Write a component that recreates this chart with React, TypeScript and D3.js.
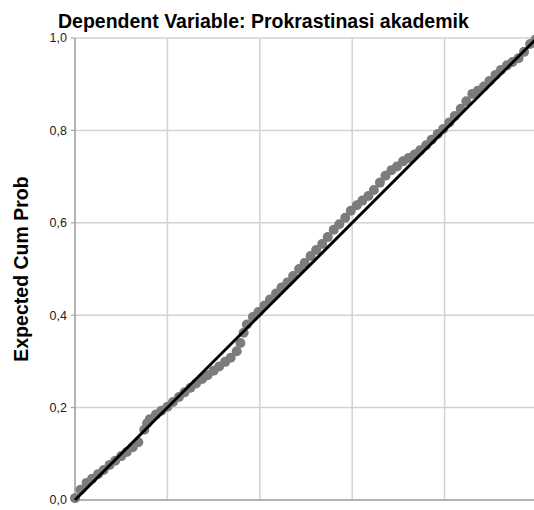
import { useEffect, useRef } from 'react';
import { select, scaleLinear, line } from 'd3';

// observed cum prob (x) and expected cum prob (y) of the P-P plot
const observed = [
  0.0, 0.012, 0.025, 0.037, 0.05, 0.062, 0.075, 0.087, 0.1, 0.112, 0.125,
  0.137, 0.15, 0.156, 0.162, 0.175, 0.187, 0.2, 0.212, 0.225, 0.237, 0.25,
  0.262, 0.275, 0.287, 0.3, 0.312, 0.325, 0.337, 0.35, 0.358, 0.365, 0.372,
  0.385, 0.397, 0.41, 0.422, 0.435, 0.447, 0.46, 0.472, 0.485, 0.497, 0.51,
  0.522, 0.535, 0.547, 0.56, 0.572, 0.585, 0.597, 0.61, 0.622, 0.635, 0.647,
  0.66, 0.672, 0.685, 0.697, 0.71, 0.722, 0.735, 0.747, 0.76, 0.772, 0.785,
  0.797, 0.81, 0.822, 0.835, 0.847, 0.86, 0.872, 0.885, 0.897, 0.91, 0.922,
  0.935, 0.947, 0.96, 0.972, 0.985, 0.997,
];
const expected = [
  0.004, 0.022, 0.037, 0.046, 0.056, 0.065, 0.076, 0.085, 0.095, 0.104, 0.114,
  0.125, 0.152, 0.166, 0.175, 0.185, 0.193, 0.202, 0.212, 0.223, 0.233, 0.243,
  0.252, 0.262, 0.27, 0.28, 0.289, 0.299, 0.308, 0.322, 0.34, 0.362, 0.38,
  0.396, 0.407, 0.421, 0.434, 0.447, 0.46, 0.471, 0.485, 0.5, 0.513, 0.528,
  0.541, 0.554, 0.569, 0.585, 0.597, 0.611, 0.626, 0.638, 0.648, 0.658, 0.671,
  0.687, 0.702, 0.714, 0.722, 0.733, 0.74, 0.748, 0.757, 0.768, 0.78, 0.792,
  0.803, 0.817, 0.831, 0.847, 0.863, 0.879, 0.886, 0.895, 0.907, 0.92, 0.931,
  0.941, 0.948, 0.956, 0.97, 0.987, 0.997,
];
const xGrid = [0.2, 0.4, 0.6, 0.8];
const yTicks = [0, 0.2, 0.4, 0.6, 0.8, 1];
const refLine = [0, 1];

const width = 534;
const height = 510;
const margin = { top: 38, left: 75, bottom: 10 };
const plotSize = 462;
const font = 'Liberation Sans, Arial, sans-serif';

const App = () => {
  const svgRef = useRef<SVGSVGElement>(null);

  useEffect(() => {
    document.body.style.margin = '0';
    if (!svgRef.current) return;
    const svg = select(svgRef.current);
    svg.selectAll('*').remove();

    const x = scaleLinear()
      .domain([0, 1])
      .range([margin.left, margin.left + plotSize]);
    const y = scaleLinear()
      .domain([0, 1])
      .range([margin.top + plotSize, margin.top]);

    // grid
    svg
      .append('g')
      .selectAll('line')
      .data(xGrid)
      .join('line')
      .attr('x1', (d) => x(d))
      .attr('x2', (d) => x(d))
      .attr('y1', y(0))
      .attr('y2', y(1))
      .attr('stroke', '#d2d2d2')
      .attr('stroke-width', 1.5);

    svg
      .append('g')
      .selectAll('line')
      .data(yTicks.slice(1))
      .join('line')
      .attr('x1', x(0))
      .attr('x2', x(1))
      .attr('y1', (d) => y(d))
      .attr('y2', (d) => y(d))
      .attr('stroke', '#d2d2d2')
      .attr('stroke-width', 1.5);

    // axes
    svg
      .append('line')
      .attr('x1', x(0))
      .attr('x2', x(0))
      .attr('y1', y(0))
      .attr('y2', y(1))
      .attr('stroke', '#9a9a9a')
      .attr('stroke-width', 1.5);
    svg
      .append('line')
      .attr('x1', x(0))
      .attr('x2', x(1))
      .attr('y1', y(0))
      .attr('y2', y(0))
      .attr('stroke', '#9a9a9a')
      .attr('stroke-width', 1.5);

    const ticks = svg.append('g');
    ticks
      .selectAll('line')
      .data(yTicks)
      .join('line')
      .attr('x1', x(0) - 4)
      .attr('x2', x(0))
      .attr('y1', (d) => y(d))
      .attr('y2', (d) => y(d))
      .attr('stroke', '#9a9a9a');
    ticks
      .selectAll('text')
      .data(yTicks)
      .join('text')
      .attr('x', x(0) - 8)
      .attr('y', (d) => y(d))
      .attr('dy', '0.35em')
      .attr('text-anchor', 'end')
      .style('font-family', font)
      .style('font-size', '12.5px')
      .attr('fill', '#222')
      .text((d) => d.toFixed(1).replace('.', ','));

    // points
    svg
      .append('g')
      .selectAll('circle')
      .data(observed)
      .join('circle')
      .attr('cx', (d) => x(d))
      .attr('cy', (_, i) => y(expected[i]))
      .attr('r', 5)
      .attr('fill', '#7c7c7c');

    // reference line
    const diag = line<number>()
      .x((d) => x(d))
      .y((d) => y(d));
    svg
      .append('path')
      .attr('d', diag(refLine))
      .attr('stroke', '#000')
      .attr('stroke-width', 3)
      .attr('fill', 'none');

    // title and label
    svg
      .append('text')
      .attr('x', 58)
      .attr('y', 28)
      .style('font-family', font)
      .style('font-size', '19.5px')
      .style('font-weight', 'bold')
      .attr('fill', '#000')
      .text('Dependent Variable: Prokrastinasi akademik');

    svg
      .append('text')
      .attr('transform', `translate(28, ${y(0.5)}) rotate(-90)`)
      .attr('text-anchor', 'middle')
      .style('font-family', font)
      .style('font-size', '19.5px')
      .style('font-weight', 'bold')
      .attr('fill', '#000')
      .text('Expected Cum Prob');
  }, []);

  return (
    <svg
      ref={svgRef}
      width={width}
      height={height}
      style={{ display: 'block', background: '#fff' }}
    />
  );
};

export default App;
